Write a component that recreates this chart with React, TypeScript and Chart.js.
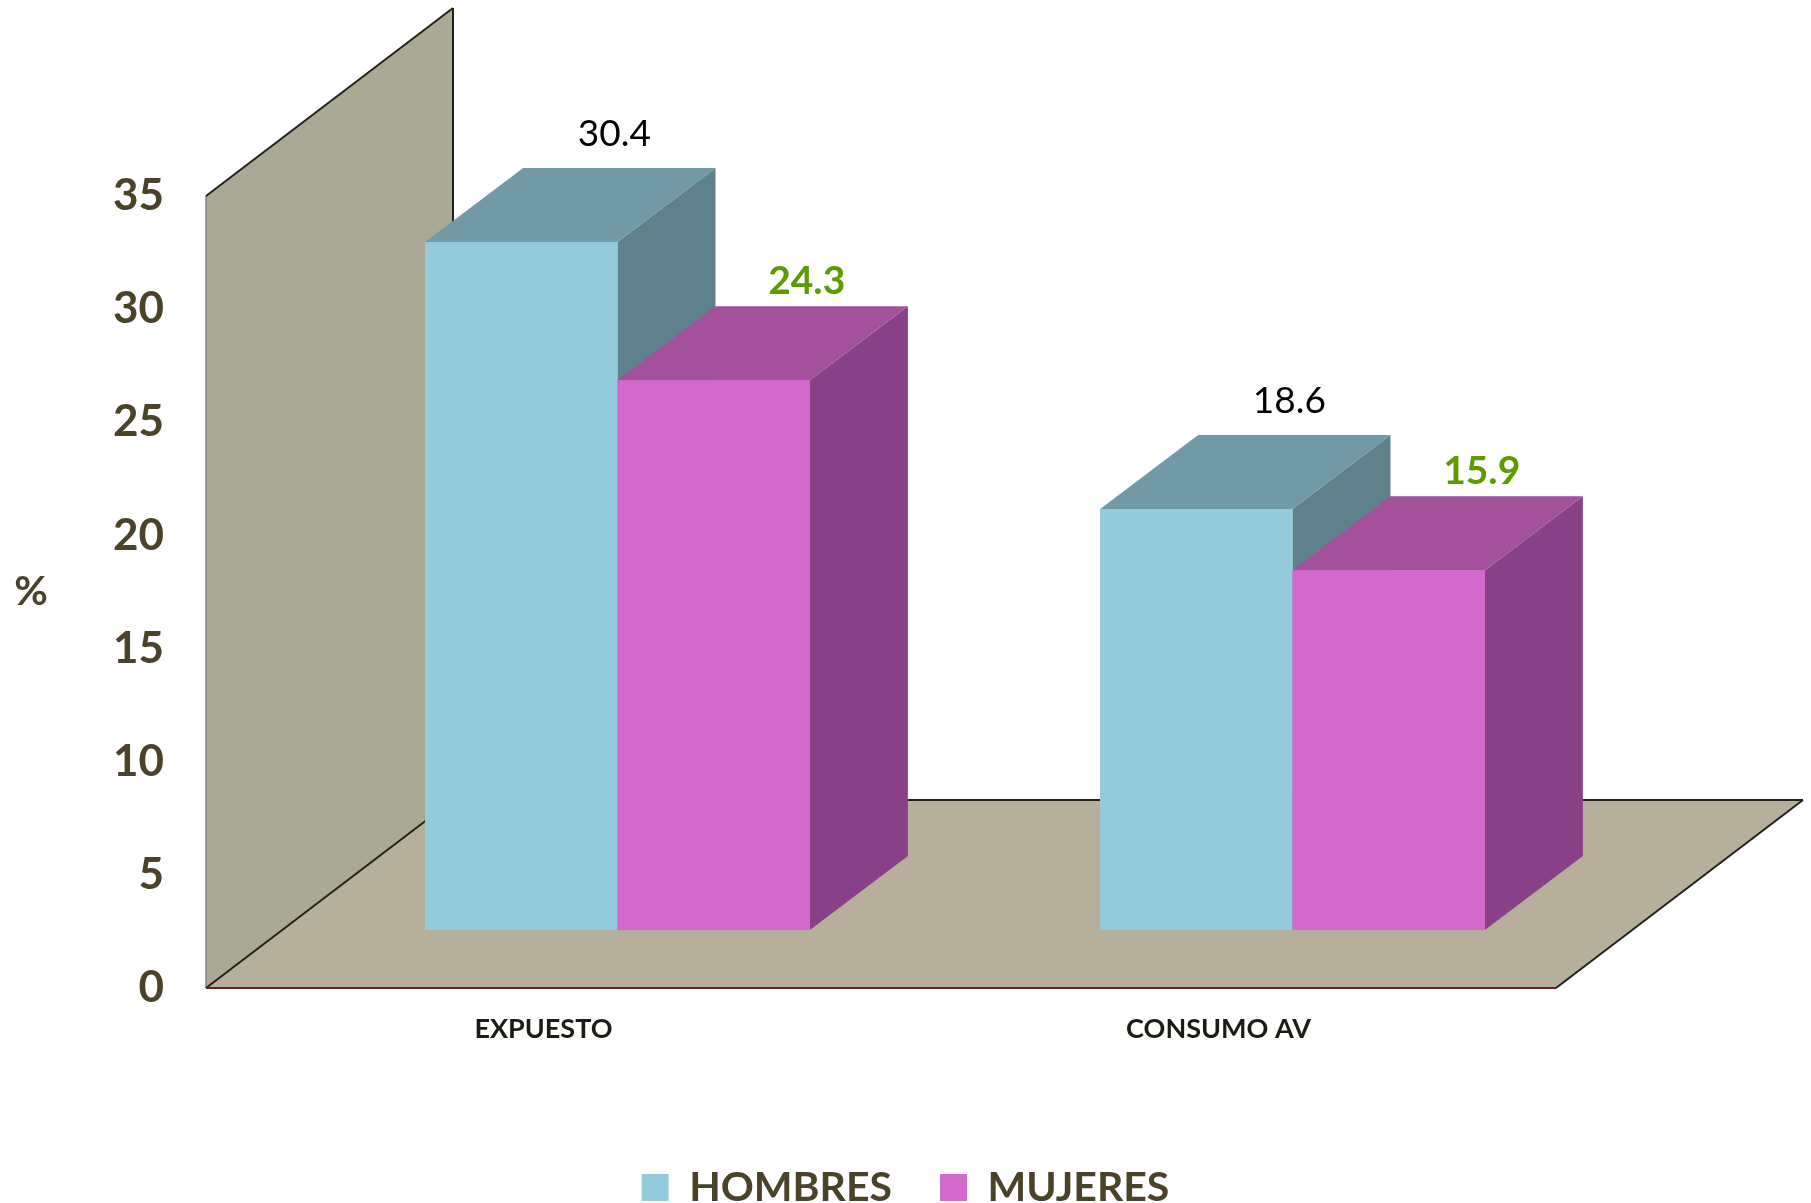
import React, { useEffect, useRef } from "react";
import { Chart, registerables } from "chart.js";

Chart.register(...registerables);

const categories = ["EXPUESTO", "CONSUMO AV"];
const seriesNames = ["HOMBRES", "MUJERES"];
const hombres = [30.4, 18.6];
const mujeres = [24.3, 15.9];
const yMin = 0;
const yMax = 35;
const yStep = 5;
const axisTitle = "%";

const FONT = "Lato";
const OLIVE = "#4A4329";
const FRONT = ["#93CBDC", "#D369CD"];
const TOP = ["#7199A6", "#A3519B"];
const SIDE = ["#5F818B", "#884187"];
const LABEL_COLORS = ["#000000", "#5E9A00"];
const LABEL_WEIGHTS = ["normal", "bold"];

// 3D geometry (styles, not data)
const DEPTH = { dx: 247, dy: -188 };
const BAR_OFF = { dx: 74, dy: -58 };
const BAR_DEPTH = { dx: 98, dy: -74 };

function poly(ctx: CanvasRenderingContext2D, pts: number[][], fill: string) {
  ctx.beginPath();
  ctx.moveTo(pts[0][0], pts[0][1]);
  for (let i = 1; i < pts.length; i++) ctx.lineTo(pts[i][0], pts[i][1]);
  ctx.closePath();
  ctx.fillStyle = fill;
  ctx.fill();
}

function line(ctx: CanvasRenderingContext2D, x1: number, y1: number, x2: number, y2: number, color: string, w: number) {
  ctx.beginPath();
  ctx.moveTo(x1, y1);
  ctx.lineTo(x2, y2);
  ctx.strokeStyle = color;
  ctx.lineWidth = w;
  ctx.stroke();
}

const threeD = {
  id: "threeD",
  beforeDatasetsDraw(chart: any) {
    const { ctx, chartArea: a } = chart;
    const { dx, dy } = DEPTH;
    ctx.save();
    // back wall
    poly(ctx, [[a.left, a.top], [a.left + dx, a.top + dy], [a.left + dx, a.bottom + dy], [a.left, a.bottom]], "#AAA996");
    // floor
    poly(ctx, [[a.left, a.bottom], [a.right, a.bottom], [a.right + dx, a.bottom + dy], [a.left + dx, a.bottom + dy]], "#B5AF9B");
    line(ctx, a.left, a.top, a.left, a.bottom, "#808080", 1.5);
    line(ctx, a.left, a.top, a.left + dx, a.top + dy, "#22221a", 2);
    line(ctx, a.left + dx, a.top + dy, a.left + dx, a.bottom + dy, "#22221a", 2);
    line(ctx, a.left, a.bottom, a.left + dx, a.bottom + dy, "#22221a", 2);
    line(ctx, a.left + dx, a.bottom + dy, a.right + dx, a.bottom + dy, "#22221a", 2);
    line(ctx, a.right + dx, a.bottom + dy, a.right, a.bottom, "#22221a", 2);
    line(ctx, a.left, a.bottom, a.right, a.bottom, "#6B1F1F", 2);
    // y axis title
    ctx.font = `bold 41px ${FONT}`;
    ctx.fillStyle = OLIVE;
    ctx.textAlign = "center";
    ctx.textBaseline = "middle";
    ctx.fillText(axisTitle, a.left - 175, (a.top + a.bottom) / 2);
    ctx.restore();
    ctx.save();
    ctx.translate(BAR_OFF.dx, BAR_OFF.dy);
  },
  afterDatasetsDraw(chart: any) {
    const { ctx } = chart;
    ctx.restore();
    ctx.save();
    const n = chart.data.labels.length;
    const nd = chart.data.datasets.length;
    const boxes: any[] = [];
    for (let j = 0; j < n; j++) {
      for (let i = 0; i < nd; i++) {
        const el = chart.getDatasetMeta(i).data[j];
        const p = el.getProps(["x", "y", "base", "width"], true);
        const l = p.x - p.width / 2 + BAR_OFF.dx;
        const r = p.x + p.width / 2 + BAR_OFF.dx;
        const t = p.y + BAR_OFF.dy;
        const b = p.base + BAR_OFF.dy;
        const bx = BAR_DEPTH.dx, by = BAR_DEPTH.dy;
        poly(ctx, [[r, t], [r + bx, t + by], [r + bx, b + by], [r, b]], SIDE[i]);
        poly(ctx, [[l, t], [l + bx, t + by], [r + bx, t + by], [r, t]], TOP[i]);
        ctx.fillStyle = FRONT[i];
        ctx.fillRect(l, t, r - l, b - t);
        boxes.push({ i, j, cx: (l + r) / 2 + bx - 5, ty: t + by });
      }
    }
    ctx.textAlign = "center";
    ctx.textBaseline = "middle";
    for (const bx of boxes) {
      const v = chart.data.datasets[bx.i].data[bx.j];
      ctx.font = `${LABEL_WEIGHTS[bx.i]} ${bx.i === 0 ? 37 : 39}px ${FONT}`;
      ctx.fillStyle = LABEL_COLORS[bx.i];
      ctx.fillText(v.toFixed(1), bx.cx, bx.ty - (bx.i === 0 ? 34 : 25));
    }
    ctx.restore();
  },
};

export default function App() {
  const ref = useRef<HTMLCanvasElement | null>(null);
  useEffect(() => {
    if (!ref.current) return;
    const chart = new Chart(ref.current, {
      type: "bar",
      data: {
        labels: categories,
        datasets: [
          { label: seriesNames[0], data: hombres, backgroundColor: FRONT[0], borderWidth: 0, clip: false as any },
          { label: seriesNames[1], data: mujeres, backgroundColor: FRONT[1], borderWidth: 0, clip: false as any },
        ],
      },
      options: {
        responsive: false,
        animation: false,
        devicePixelRatio: 1,
        layout: { padding: { top: 196, left: 0, right: 0, bottom: 22 } },
        datasets: { bar: { categoryPercentage: 0.57, barPercentage: 1 } },
        plugins: {
          legend: {
            position: "bottom",
            labels: {
              boxWidth: 27,
              boxHeight: 27,
              padding: 48,
              color: OLIVE,
              font: { family: FONT, size: 41, weight: "bold" },
            },
          },
          tooltip: { enabled: false },
        },
        scales: {
          x: {
            grid: { display: false },
            border: { display: false },
            ticks: { color: "#1c1c12", padding: 17, font: { family: FONT, size: 27, weight: "bold" } },
            afterFit: (s: any) => { s.height = 131; },
          },
          y: {
            min: yMin,
            max: yMax,
            grid: { display: false },
            border: { display: false },
            ticks: { stepSize: yStep, color: OLIVE, padding: 34, font: { family: FONT, size: 44, weight: "bold" } },
            afterFit: (s: any) => { s.width = 206; },
          },
          yR: {
            position: "right",
            grid: { display: false },
            border: { display: false },
            ticks: { display: false },
            afterFit: (s: any) => { s.width = 255; },
          },
        },
      } as any,
      plugins: [threeD],
    });
    return () => chart.destroy();
  }, []);
  return (
    <div style={{ position: "fixed", left: 0, top: 0, width: 1811, height: 1203, overflow: "hidden", background: "#fff" }}>
      <canvas ref={ref} width={1811} height={1240} style={{ display: "block" }} />
    </div>
  );
}
